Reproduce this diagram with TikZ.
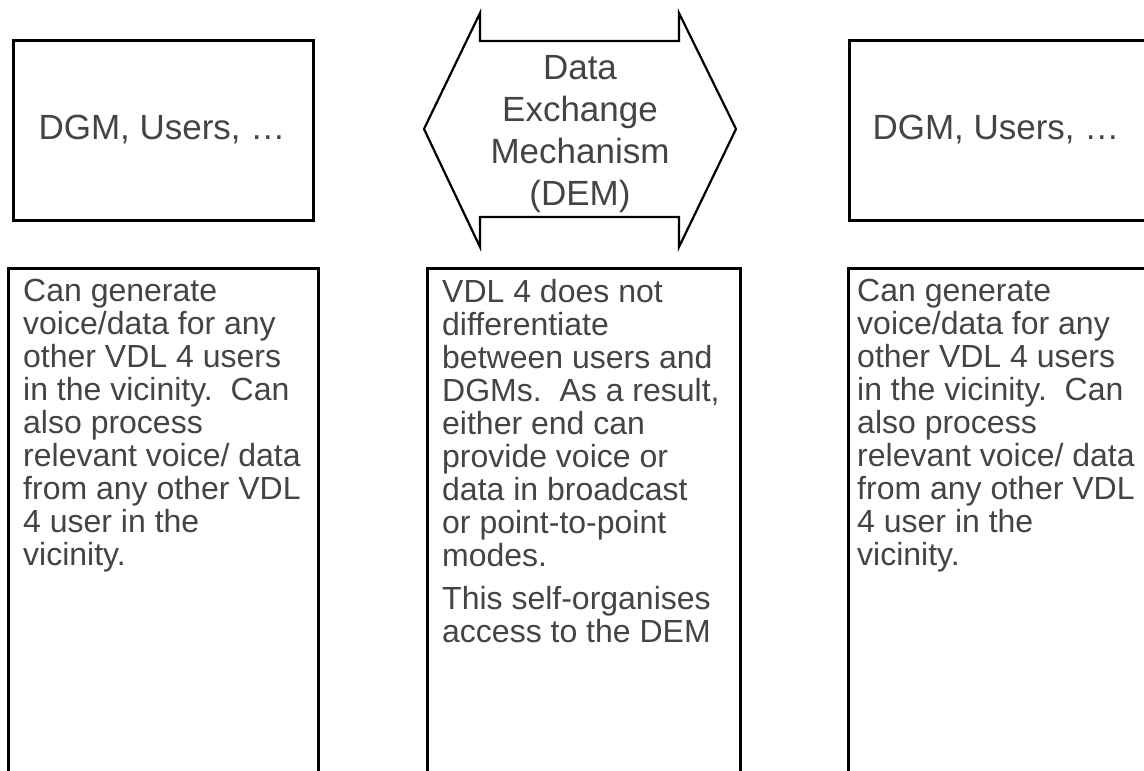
\documentclass[tikz,border=0pt]{standalone}
\usepackage{fontspec}
\setmainfont{Liberation Sans}
\definecolor{txt}{RGB}{68,68,68}
\begin{document}
\begin{tikzpicture}[x=1pt,y=-1pt,
  frame/.style={draw=black,line width=2.5pt},
  lbl/.style={text=txt,font=\fontsize{32}{33}\selectfont,inner sep=0pt},
  big/.style={text=txt,font=\fontsize{35}{42}\selectfont,inner sep=0pt},
  para/.style={lbl,align=left,anchor=north west},
]
\useasboundingbox (0,0) rectangle (1144,771);
\clip (0,0) rectangle (1144,771);
% top boxes
\node[frame,minimum width=300pt,minimum height=180pt,anchor=north west,inner sep=0pt] (tl) at (12,39) {};
\node[frame,minimum width=300pt,minimum height=180pt,anchor=north west,inner sep=0pt] (tr) at (848,39) {};
\node[big,anchor=base] (tlt) at (162,139) {DGM, Users, …};
\node[big,anchor=base] (trt) at (996,139) {DGM, Users, …};
% double arrow
\draw[line width=2.2pt,line join=miter] (424,129) -- (480,13) -- (480,41) -- (679,41) -- (679,13) -- (736,129) -- (679,247) -- (679,217) -- (480,217) -- (480,247) -- cycle;
\node[big,align=center,anchor=north] (dem) at (580,55) {Data\\Exchange\\Mechanism\\(DEM)};
% bottom boxes
\node[frame,minimum width=310pt,minimum height=560pt,anchor=north west,inner sep=0pt] (bl) at (7,267) {};
\node[frame,minimum width=313pt,minimum height=560pt,anchor=north west,inner sep=0pt] (bm) at (426,267) {};
\node[frame,minimum width=310pt,minimum height=560pt,anchor=north west,inner sep=0pt] (br) at (847,267) {};
\node[para] (blt) at (23,279) {Can generate\\voice/data for any\\other VDL 4 users\\in the vicinity.\ \ Can\\also process\\relevant voice/ data\\from any other VDL\\4 user in the\\vicinity.};
\node[para] (bmt) at (442,279) {VDL 4 does not\\differentiate\\between users and\\DGMs.\ \ As a result,\\either end can\\provide voice or\\data in broadcast\\or point-to-point\\modes.\\[10pt]This self-organises\\access to the DEM};
\node[para] (brt) at (857,279) {Can generate\\voice/data for any\\other VDL 4 users\\in the vicinity.\ \ Can\\also process\\relevant voice/ data\\from any other VDL\\4 user in the\\vicinity.};
\end{tikzpicture}
\end{document}
